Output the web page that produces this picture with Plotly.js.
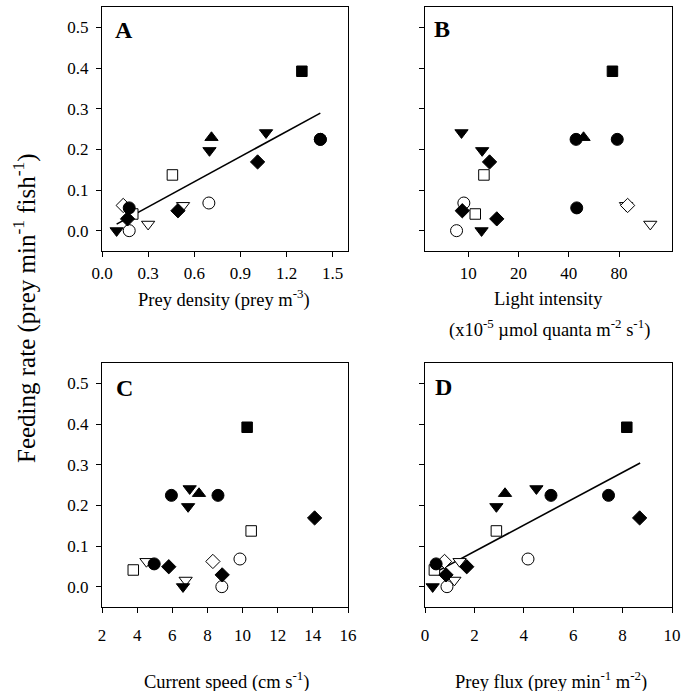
<!DOCTYPE html>
<html><head><meta charset="utf-8">
<script src="https://cdn.plot.ly/plotly-3.0.1.min.js"></script>
<style>html,body{margin:0;padding:0;background:#fff}</style>
</head><body><div id="chart" style="width:698px;height:691px"></div>
<script>
// ---- data (open symbols first so filled ones sit on top) ----
const group = ['open triangle-down','open diamond','open square','open circle','open square','open triangle-down','open circle',
  'solid square','solid circle','solid circle','solid triangle-down','solid triangle-up','solid triangle-down','solid diamond',
  'solid circle','solid diamond','solid diamond','solid triangle-down'];
const feedingRate   = [0.062, 0.062, 0.137, 0.068, 0.041, 0.016, 0.000,
  0.392, 0.2245, 0.2245, 0.241, 0.229, 0.197, 0.169, 0.056, 0.049, 0.029, 0.000];
const preyDensity   = [0.527, 0.138, 0.458, 0.695, 0.200, 0.300, 0.177,
  1.30, 1.42, 1.42, 1.067, 0.712, 0.699, 1.012, 0.177, 0.494, 0.166, 0.095];
const lightIntensity= [88, 90, 12.4, 9.4, 11.0, 123, 8.5,
  73, 44.2, 78, 9.1, 49, 12.1, 13.4, 44.6, 9.2, 14.8, 12.0];
const currentSpeed  = [4.53, 8.31, 10.49, 9.85, 3.78, 6.76, 8.82,
  10.26, 5.95, 8.6, 6.99, 7.52, 6.9, 14.1, 4.97, 5.8, 8.84, 6.61];
const preyFlux      = [1.4, 0.79, 2.89, 4.17, 0.38, 1.19, 0.89,
  8.17, 5.1, 7.43, 4.51, 3.24, 2.89, 8.69, 0.45, 1.69, 0.85, 0.31];
const fitDensityX = [0.095, 1.42], fitDensityY = [0.016, 0.289];
const fitFluxX = [0.38, 8.71], fitFluxY = [0.034, 0.304];
const rateTicks = [0, 0.1, 0.2, 0.3, 0.4, 0.5];
const rateTickText = ['0.0','0.1','0.2','0.3','0.4','0.5'];
const densityTicks = [0, 0.3, 0.6, 0.9, 1.2, 1.5];
const densityTickText = ['0.0','0.3','0.6','0.9','1.2','1.5'];
const lightTicks = [10, 20, 40, 80];
const speedTicks = [2, 4, 6, 8, 10, 12, 14, 16];
const fluxTicks = [0, 2, 4, 6, 8, 10];

// ---- styles ----
const styleMap = {
  'square': {symbol:'square', size:10.5},
  'circle': {symbol:'circle', size:12},
  'triangle-down': {symbol:'triangle-down', size:11.5},
  'triangle-up': {symbol:'triangle-up', size:11.5},
  'diamond': {symbol:'diamond', size:11}
};
function markerFor(groups){
  return {
    symbol: groups.map(g => styleMap[g.split(' ')[1]].symbol),
    size: groups.map(g => styleMap[g.split(' ')[1]].size),
    color: groups.map(g => g.startsWith('solid') ? '#000' : '#fff'),
    opacity: 1,
    line: {color:'#000', width:1}
  };
}
const mk = markerFor(group);
function pts(x, xa, ya){
  return {type:'scatter', mode:'markers', x:x, y:feedingRate, xaxis:xa, yaxis:ya,
    marker:mk, showlegend:false, hoverinfo:'x+y', cliponaxis:false};
}
function fit(x, y, xa, ya){
  return {type:'scatter', mode:'lines', x:x, y:y, xaxis:xa, yaxis:ya,
    line:{color:'#000', width:1.6}, showlegend:false, hoverinfo:'skip'};
}
const data = [
  fit(fitDensityX, fitDensityY, 'x', 'y'),
  pts(preyDensity, 'x', 'y'),
  pts(lightIntensity, 'x2', 'y2'),
  pts(currentSpeed, 'x3', 'y3'),
  fit(fitFluxX, fitFluxY, 'x4', 'y4'),
  pts(preyFlux, 'x4', 'y4')
];

const W = 698, H = 691;
const serif = 'Liberation Serif, Times New Roman, serif';
const tickFont = {family:serif, size:17, color:'#000'};
const base = {showline:true, mirror:true, linecolor:'#000', linewidth:1, ticks:'outside',
  ticklen:5, tickwidth:1, tickcolor:'#000', showgrid:false, zeroline:false,
  tickfont:tickFont, fixedrange:true};
const colA = [102/W, 348/W], colB = [425/W, 672/W];
const rowTop = [1-251/H, 1-7/H], rowBot = [1-607/H, 1-363/H];
function xax(dom, anchor, extra){ return Object.assign({}, base, {domain:dom, anchor:anchor}, extra); }
function yax(dom, anchor, labels){
  return Object.assign({}, base, {domain:dom, anchor:anchor, range:[-0.05, 0.55],
    tickvals:rateTicks, ticktext:rateTickText, showticklabels:labels, ticklabelstandoff:4});
}
const layout = {
  width:W, height:H, margin:{l:0, r:0, t:0, b:0},
  paper_bgcolor:'#fff', plot_bgcolor:'#fff',
  font:{family:serif, color:'#000'},
  xaxis: xax(colA, 'y', {range:[0, 1.6], tickvals:densityTicks, ticktext:densityTickText, ticklabelstandoff:2}),
  yaxis: yax(rowTop, 'x', true),
  xaxis2: xax(colB, 'y2', {type:'log', range:[Math.log10(5.5), Math.log10(166)], tickvals:lightTicks, ticktext:lightTicks.map(String), ticklabelstandoff:2}),
  yaxis2: yax(rowTop, 'x2', false),
  xaxis3: xax(colA, 'y3', {range:[2, 16], tickvals:speedTicks, ticktext:speedTicks.map(String), ticklabelstandoff:8}),
  yaxis3: yax(rowBot, 'x3', true),
  xaxis4: xax(colB, 'y4', {range:[0, 10], tickvals:fluxTicks, ticktext:fluxTicks.map(String), ticklabelstandoff:8}),
  yaxis4: yax(rowBot, 'x4', false),
  annotations: []
};
const titleFont = {family:serif, size:18.5, color:'#000'};
function ann(text, x, y, opts){
  layout.annotations.push(Object.assign({text:text, x:x/W, y:1-y/H, xref:'paper', yref:'paper',
    showarrow:false, xanchor:'center', yanchor:'middle', font:titleFont}, opts||{}));
}
ann('Prey density (prey m<sup>-3</sup>)', 224, 299);
ann('Light intensity', 548, 299);
ann('(x10<sup>-5</sup> \u00b5mol quanta m<sup>-2</sup> s<sup>-1</sup>)', 549, 328);
ann('Current speed (cm s<sup>-1</sup>)', 226, 680);
ann('Prey flux (prey min<sup>-1</sup> m<sup>-2</sup>)', 551, 680);
ann('Feeding rate (prey min<sup>-1</sup> fish<sup>-1</sup>)', 24, 308, {textangle:-90,
  font:{family:serif, size:25, color:'#000'}});
const letterFont = {family:serif, size:24, color:'#000'};
ann('<b>A</b>', 124, 30, {font:letterFont});
ann('<b>B</b>', 442, 29, {font:letterFont});
ann('<b>C</b>', 124, 388, {font:letterFont});
ann('<b>D</b>', 444, 387, {font:letterFont});

Plotly.newPlot('chart', data, layout, {staticPlot:true, displayModeBar:false});
</script></body></html>
